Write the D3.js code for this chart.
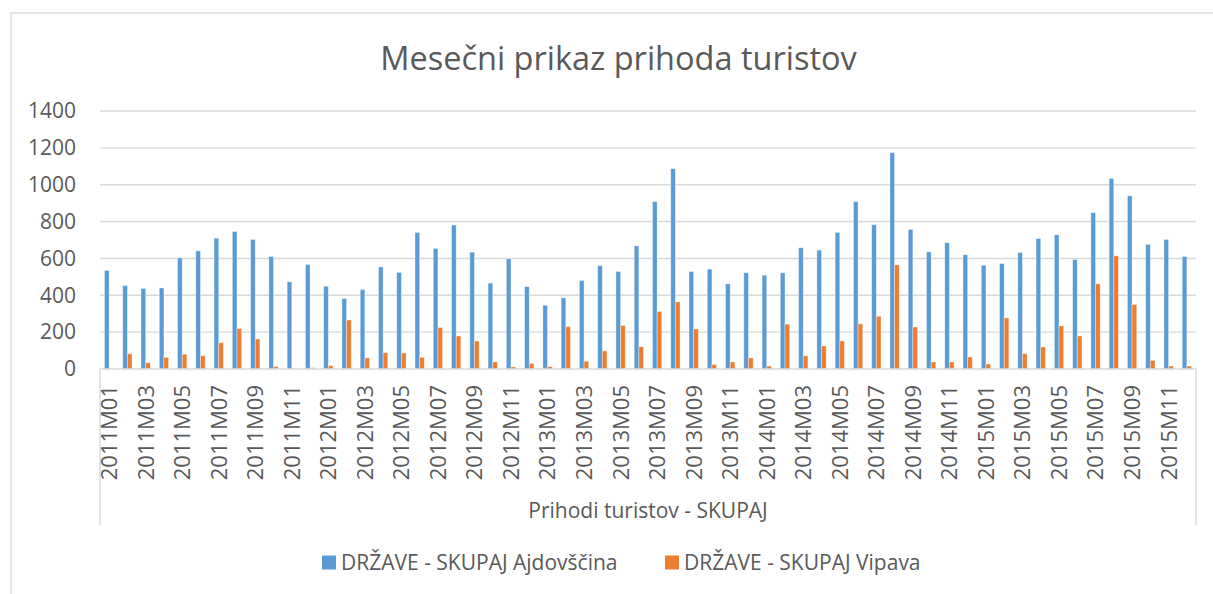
<!DOCTYPE html>
<html>

<head>
  <meta charset="utf-8">
  <title>Mesečni prikaz prihoda turistov</title>
  <style>
    body { margin: 0; background: #fff; }
    text { font-family: 'Open Sans', sans-serif; fill: #595959; }
  </style>
</head>

<body>
  <div id='chart'></div>

  <script src="https://d3js.org/d3.v7.min.js"></script>
  <script>
    // data
    let years = ['2011', '2012', '2013', '2014', '2015'];
    let months = ['M01', 'M02', 'M03', 'M04', 'M05', 'M06', 'M07', 'M08', 'M09', 'M10', 'M11', 'M12'];
    let categories = [];
    years.forEach(y => months.forEach(m => categories.push(y + m)));

    let seriesNames = ['DRŽAVE - SKUPAJ Ajdovščina', 'DRŽAVE - SKUPAJ Vipava'];
    let ajdovscina = [
      535, 453, 437, 440, 603, 641, 710, 746, 703, 610, 473, 567,
      449, 382, 431, 554, 524, 741, 654, 781, 634, 466, 598, 447,
      346, 386, 480, 560, 529, 668, 908, 1087, 529, 542, 462, 522,
      509, 522, 658, 645, 741, 908, 783, 1174, 757, 636, 685, 620,
      563, 572, 632, 708, 728, 594, 848, 1034, 940, 676, 703, 610
    ];
    let vipava = [
      0, 83, 34, 63, 80, 72, 143, 219, 163, 13, 0, 7,
      18, 266, 60, 89, 87, 63, 225, 179, 152, 38, 11, 31,
      13, 230, 42, 98, 236, 121, 312, 364, 217, 25, 38, 60,
      16, 243, 71, 125, 152, 245, 286, 565, 228, 38, 38, 65,
      27, 277, 83, 120, 234, 179, 462, 614, 350, 47, 16, 16
    ];
    let yTicks = [0, 200, 400, 600, 800, 1000, 1200, 1400];
    let colors = ['#5B9BD5', '#ED7D31'];

    let svgWidth = 1213;
    let svgHeight = 594;
    let plot = { left: 100, right: 1196, top: 111, bottom: 369, boxBottom: 525 };

    let svg = d3.select('#chart').append('svg')
      .attr('width', svgWidth)
      .attr('height', svgHeight);

    // chart border (right and bottom fall outside the picture)
    svg.append('rect')
      .attr('x', 11).attr('y', 13)
      .attr('width', 1215).attr('height', 600)
      .attr('fill', 'none')
      .attr('stroke', '#d9d9d9')
      .attr('stroke-width', 1.3);

    svg.append('text')
      .attr('x', 618.5).attr('y', 70)
      .attr('text-anchor', 'middle')
      .style('font-size', '32.5px')
      .text('Mesečni prikaz prihoda turistov');

    let x0 = d3.scaleBand()
      .domain(categories)
      .range([plot.left, plot.right])
      .paddingInner(0.49)
      .paddingOuter(0.245);

    let x1 = d3.scaleBand()
      .domain([0, 1])
      .range([0, x0.bandwidth()]);

    let y = d3.scaleLinear()
      .domain([0, 1400])
      .range([plot.bottom, plot.top]);

    // gridlines
    svg.append('g')
      .selectAll('line')
      .data(yTicks.slice(1))
      .enter()
      .append('line')
      .attr('x1', plot.left).attr('x2', plot.right)
      .attr('y1', d => y(d)).attr('y2', d => y(d))
      .attr('stroke', '#d9d9d9')
      .attr('stroke-width', 1.4);

    // y axis labels
    let yAxis = svg.append('g')
      .attr('transform', 'translate(76,0)')
      .call(d3.axisLeft(y).tickValues(yTicks).tickFormat(d3.format('d')).tickSize(0).tickPadding(0));
    yAxis.select('.domain').remove();
    yAxis.selectAll('text')
      .attr('fill', '#595959')
      .style('font-size', '21px')
      .style('font-family', "'Open Sans', sans-serif");

    // bars
    let rows = categories.map((c, i) => ({ cat: c, values: [ajdovscina[i], vipava[i]] }));
    let groups = svg.append('g')
      .selectAll('g')
      .data(rows)
      .enter()
      .append('g')
      .attr('transform', d => 'translate(' + x0(d.cat) + ',0)');

    groups.selectAll('rect')
      .data(d => d.values.map((v, k) => ({ k: k, v: v })))
      .enter()
      .append('rect')
      .attr('x', d => x1(d.k))
      .attr('width', x1.bandwidth())
      .attr('y', d => y(d.v))
      .attr('height', d => y(0) - y(d.v))
      .attr('fill', d => colors[d.k])
      .attr('stroke', '#fff')
      .attr('stroke-opacity', 0.45)
      .attr('stroke-width', 0.8);

    // category axis with box
    let axisG = svg.append('g');
    axisG.append('path')
      .attr('d', 'M' + plot.left + ',' + plot.boxBottom + 'V' + plot.bottom + 'H' + plot.right + 'V' + plot.boxBottom)
      .attr('fill', 'none')
      .attr('stroke', '#d9d9d9')
      .attr('stroke-width', 1.4);

    axisG.selectAll('text')
      .data(categories.filter((c, i) => i % 2 == 0))
      .enter()
      .append('text')
      .attr('transform', d => 'translate(' + (x0(d) + x0.bandwidth() / 2) + ',385) rotate(-90)')
      .attr('text-anchor', 'end')
      .attr('dy', '0.36em')
      .style('font-size', '22px')
      .text(d => d);

    svg.append('text')
      .attr('x', (plot.left + plot.right) / 2)
      .attr('y', 518)
      .attr('text-anchor', 'middle')
      .style('font-size', '21px')
      .text('Prihodi turistov - SKUPAJ');

    // legend
    let legendX = [322, 665];
    let legend = svg.append('g')
      .selectAll('g')
      .data(seriesNames)
      .enter()
      .append('g')
      .attr('transform', (d, i) => 'translate(' + legendX[i] + ',562.5)');

    legend.append('rect')
      .attr('x', 0).attr('y', -7)
      .attr('width', 14).attr('height', 14)
      .attr('fill', (d, i) => colors[i]);

    legend.append('text')
      .attr('x', 19)
      .attr('dy', '0.36em')
      .style('font-size', '21px')
      .text(d => d);
  </script>
</body>

</html>
